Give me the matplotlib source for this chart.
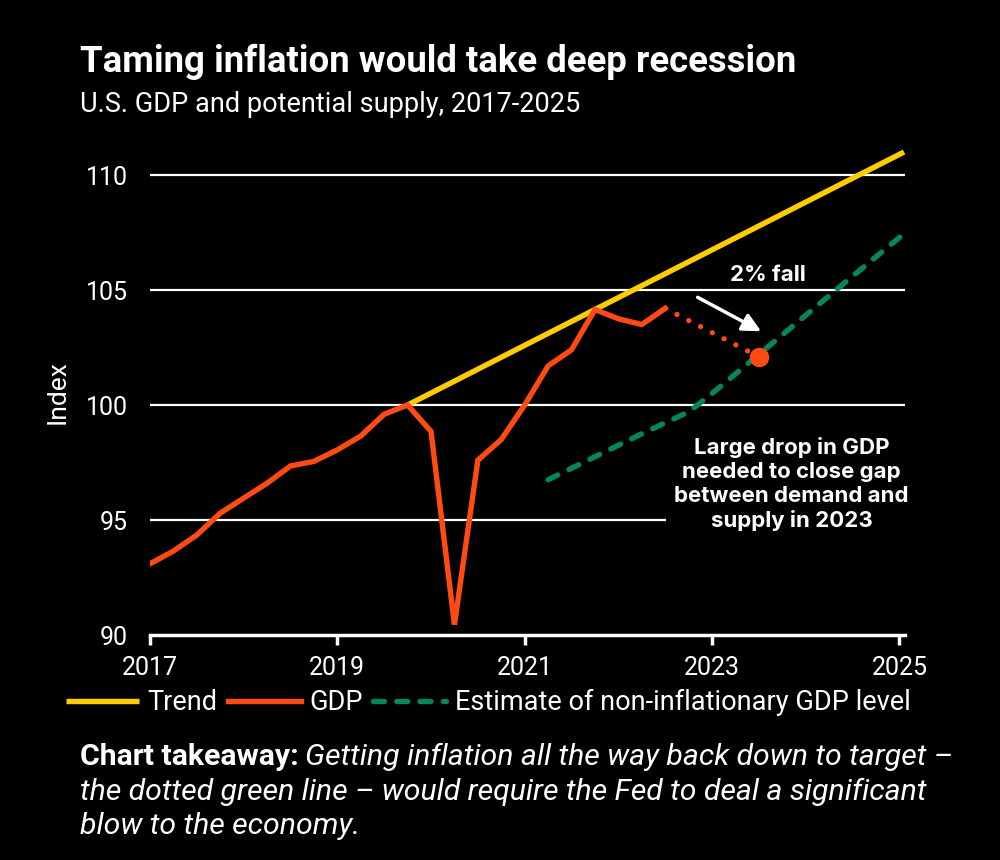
import numpy as np
import matplotlib
matplotlib.use('Agg')
import matplotlib.pyplot as plt

# quarterly GDP index (2019Q4 = 100)
gdp_x = [2017.0, 2017.25, 2017.5, 2017.75, 2018.0, 2018.25, 2018.5, 2018.75,
         2019.0, 2019.25, 2019.5, 2019.75, 2020.0, 2020.25, 2020.5, 2020.75,
         2021.0, 2021.25, 2021.5, 2021.75, 2022.0, 2022.25, 2022.5]
gdp_y = [93.1, 93.65, 94.35, 95.3, 95.95, 96.6, 97.35, 97.55,
         98.05, 98.65, 99.6, 100.0, 98.85, 90.45, 97.6, 98.5,
         100.0, 101.7, 102.4, 104.15, 103.75, 103.5, 104.2]

# trend line
trend_x = [2019.75, 2025.05]
trend_y = [100.0, 111.0]

# estimate of non-inflationary GDP level
est_x = [2021.25, 2021.75, 2022.25, 2022.75, 2023.0, 2023.5, 2024.0, 2024.5, 2025.05]
est_y = [96.75, 97.75, 98.75, 99.7, 100.5, 102.2, 103.9, 105.6, 107.45]

# projected fall
fall_x = [2022.5, 2023.5]
fall_y = [104.2, 102.1]

yticks = [90, 95, 100, 105, 110]
xticks = [2017, 2019, 2021, 2023, 2025]

yellow = '#FFCC00'
red = '#FF4A14'
green = '#00875A'
font = 'Roboto'
bold_font = 'Inter'

fig = plt.figure(figsize=(10, 8.6), dpi=100, facecolor='black')
ax = fig.add_axes([0.15, 0.2616, 0.755, 0.567])
ax.set_facecolor('black')

for yv in yticks[1:]:
    ax.axhline(yv, color='white', lw=1.6, zorder=1)

ax.plot(trend_x, trend_y, color=yellow, lw=3.9, solid_capstyle='butt', zorder=3, label='Trend')
ax.plot(gdp_x, gdp_y, color=red, lw=3.9, solid_joinstyle='miter', zorder=4, label='GDP')
ax.plot(est_x, est_y, color=green, lw=3.9, ls=(0, (2.0, 2.3)), dash_capstyle='round',
        zorder=3, label='Estimate of non-inflationary GDP level')
ax.plot(fall_x, fall_y, color=red, lw=3.8, ls=(0, (0.01, 2.5)), dash_capstyle='round', zorder=4)
ax.plot(fall_x[-1], fall_y[-1], 'o', color=red, ms=13, zorder=5)

ax.annotate('', xy=(2023.55, 103.15), xytext=(2022.82, 104.74),
            arrowprops=dict(arrowstyle='-|>,head_length=1.1,head_width=0.55', color='white', lw=2.5))
ax.text(2023.6, 105.65, '2% fall', color='white', fontsize=16, fontweight='bold',
        family=bold_font, ha='center', va='center', zorder=6)
ax.text(2023.85, 96.57, 'Large drop in GDP\nneeded to close gap\nbetween demand and\nsupply in 2023',
        color='white', fontsize=16, fontweight='bold', family=bold_font, ha='center', va='center',
        linespacing=1.25, zorder=6,
        bbox=dict(boxstyle='square,pad=0.4', fc='black', ec='none'))

ax.set_xlim(2017, 2025.06)
ax.set_ylim(90, 111.2)
ax.set_xticks(xticks)
ax.set_yticks(yticks)
for s in ['top', 'right', 'left']:
    ax.spines[s].set_visible(False)
ax.spines['bottom'].set_color('white')
ax.spines['bottom'].set_linewidth(2.5)
ax.spines['bottom'].set_zorder(2)
ax.tick_params(axis='x', colors='white', direction='out', length=7, width=2.5, pad=8, labelsize=18)
ax.tick_params(axis='y', colors='white', length=0, pad=16, labelsize=18)
for lab in ax.get_xticklabels() + ax.get_yticklabels():
    lab.set_family(font)
ax.set_ylabel('Index', color='white', fontsize=19, family=font)
ax.yaxis.set_label_coords(-0.107, 0.498)

leg = ax.legend(loc='center left', bbox_to_anchor=(-0.144, -0.139), ncol=3, frameon=False,
                handlelength=2.7, handletextpad=0.3, columnspacing=0.4,
                prop=dict(family=font, size=19.5), labelcolor='white')

fig.text(0.08, 0.928, 'Taming inflation would take deep recession', color='white',
         fontsize=26.3, fontweight='bold', family=font, va='center')
fig.text(0.08, 0.879, 'U.S. GDP and potential supply, 2017-2025', color='white',
         fontsize=19.5, family=font, va='center')

fig.canvas.draw()
r = fig.canvas.get_renderer()
t = fig.text(0.08, 0.12, 'Chart takeaway:', color='white', fontsize=21.8, fontweight='bold',
             family=font, va='center')
bb = t.get_window_extent(r)
fig.text(bb.x1 / fig.bbox.width + 0.006, 0.12,
         'Getting inflation all the way back down to target \u2013', color='white',
         fontsize=21.8, style='italic', family=font, va='center')
fig.text(0.08, 0.079, 'the dotted green line \u2013 would require the Fed to deal a significant',
         color='white', fontsize=21.8, style='italic', family=font, va='center')
fig.text(0.08, 0.039, 'blow to the economy.', color='white', fontsize=21.8, style='italic',
         family=font, va='center')

fig.savefig('out.png', dpi=100, facecolor='black')
